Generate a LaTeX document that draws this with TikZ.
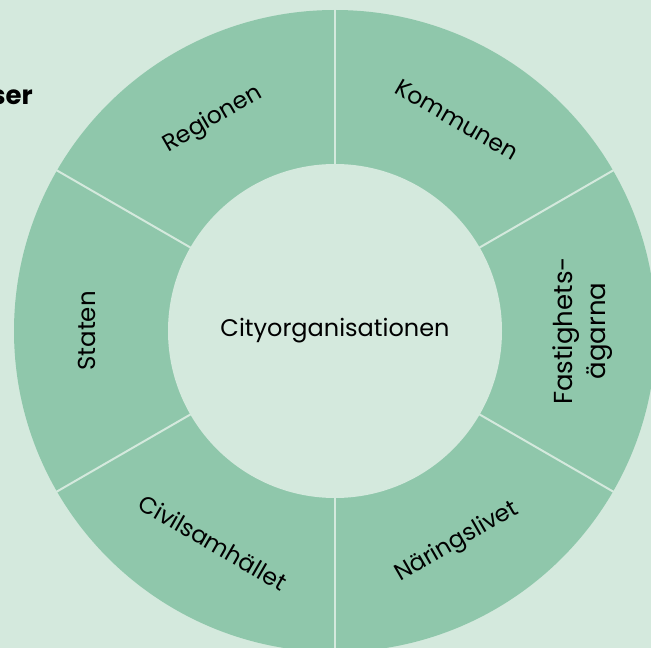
\documentclass[tikz,border=0pt]{standalone}
\usepackage{fontspec}
\usetikzlibrary{calc}
\setmainfont{Poppins}
\definecolor{bg}{HTML}{D4E9DD}
\definecolor{ring}{HTML}{8FC7AB}
\begin{document}
\begin{tikzpicture}[x=1pt,y=1pt,
  lbl/.style={font=\fontsize{23.5}{26}\selectfont, text=black, align=center, inner sep=0pt},
  sep/.style={draw=bg, line width=2pt}]
\fill[bg] (0,0) rectangle (651,648);
\useasboundingbox (0,0) rectangle (651,648);
\coordinate (c) at (335,317);
\fill[ring] (c) circle[radius=321];
\fill[bg] (c) circle[radius=167];
\foreach \a in {90,30,-30,-90,-150,150}{
  \draw[sep] ($(c)+(\a:166)$) -- ($(c)+(\a:323)$);
}
\node[lbl, font=\fontsize{24}{26}\selectfont] (center) at (c) {Cityorganisationen};
\node[lbl, rotate=30] (reg) at ($(c)+(120:244)$) {Regionen};
\node[lbl, rotate=-30] (kom) at ($(c)+(60:244)$) {Kommunen};
\node[lbl, rotate=90, font=\fontsize{26}{33}\selectfont] (fas) at ($(c)+(0:248)$) {Fastighets-\\ägarna};
\node[lbl, rotate=30] (nar) at ($(c)+(-60:244)$) {Näringslivet};
\node[lbl, rotate=-30] (civ) at ($(c)+(-120:244)$) {Civilsamhället};
\node[lbl, rotate=90, font=\fontsize{24.5}{26}\selectfont] (sta) at ($(c)+(180:248)$) {Staten};
\node[anchor=east, inner sep=0pt, font=\fontsize{26}{28}\selectfont\bfseries] (ser) at (33,551) {ser};
\end{tikzpicture}
\end{document}
